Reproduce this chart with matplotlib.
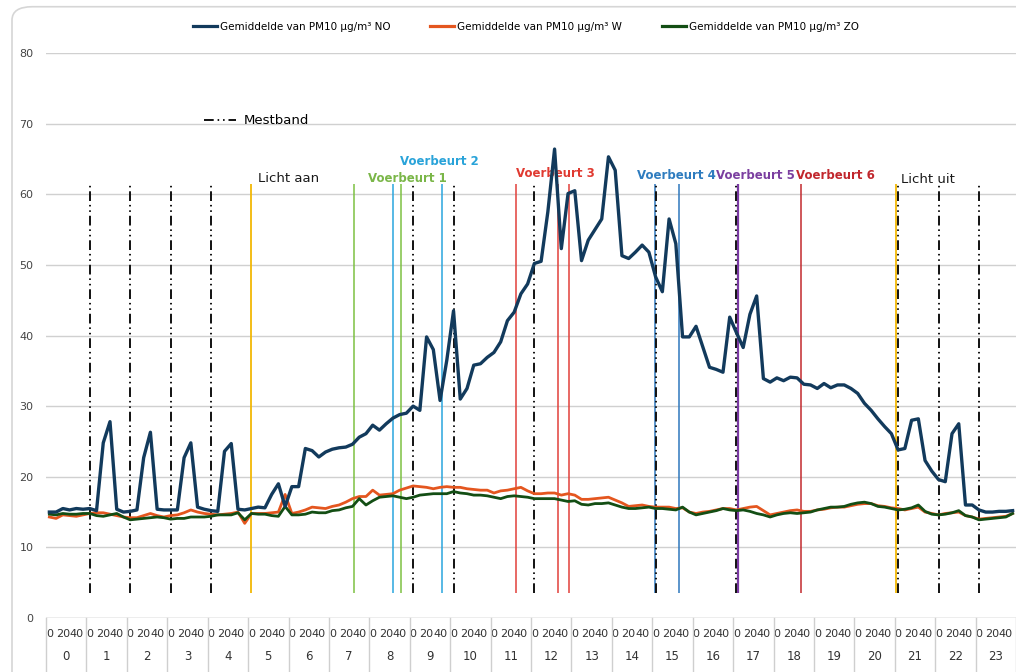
import numpy as np
import matplotlib
matplotlib.use('Agg')
import matplotlib.pyplot as plt
from matplotlib.lines import Line2D
from matplotlib.patches import FancyBboxPatch

# uren en minuut-labels (metingen per 10 minuten, label om de 20)
hours = list(range(24))
minute_labels = ['0', '20', '40']

# Gemiddelde PM10 per 10 minuten (144 waarden)
pm_no = [15.0, 15.0, 15.5, 15.3, 15.5, 15.4,
         15.5, 15.2, 24.8, 27.8, 15.4, 15.0,
         15.1, 15.3, 22.7, 26.3, 15.4, 15.3,
         15.3, 15.3, 22.7, 24.8, 15.7, 15.4,
         15.2, 15.1, 23.6, 24.7, 15.4, 15.3,
         15.5, 15.7, 15.6, 17.5, 19.0, 15.8,
         18.6, 18.6, 24.0, 23.7, 22.8, 23.5,
         23.9, 24.1, 24.2, 24.6, 25.6, 26.1,
         27.3, 26.6, 27.5, 28.3, 28.8, 29.0,
         30.0, 29.4, 39.8, 38.0, 30.8, 36.5,
         43.5, 31.0, 32.5, 35.8, 36.0, 36.9,
         37.6, 39.1, 42.1, 43.3, 45.9, 47.3,
         50.2, 50.5, 57.5, 66.4, 52.3, 60.1,
         60.5, 50.6, 53.5, 55.0, 56.5, 65.3,
         63.4, 51.3, 50.9, 51.8, 52.8, 51.8,
         48.3, 46.2, 56.5, 53.0, 39.8, 39.8,
         41.3, 38.4, 35.5, 35.2, 34.8, 42.6,
         40.4, 38.3, 43.0, 45.6, 33.9, 33.4,
         34.0, 33.6, 34.1, 34.0, 33.1, 33.0,
         32.5, 33.2, 32.6, 33.0, 33.0, 32.5,
         31.8, 30.4, 29.4, 28.2, 27.1, 26.1,
         23.8, 24.0, 28.0, 28.2, 22.3, 20.8,
         19.6, 19.3, 26.1, 27.5, 16.0, 16.0,
         15.3, 15.0, 15.0, 15.1, 15.1, 15.2]

pm_w = [14.3, 14.1, 14.6, 14.5, 14.4, 14.6,
        14.8, 14.9, 14.9, 14.7, 14.5, 14.3,
        14.2, 14.2, 14.5, 14.8, 14.5, 14.3,
        14.5, 14.6, 14.9, 15.3, 15.0, 14.8,
        14.7, 14.6, 14.7, 14.8, 15.0, 13.4,
        14.8, 14.8, 14.8, 14.9, 15.0, 17.5,
        14.8, 15.0, 15.3, 15.7, 15.6, 15.5,
        15.8, 16.0, 16.4, 16.9, 17.2, 17.2,
        18.1, 17.4, 17.5, 17.6, 18.1, 18.4,
        18.7, 18.6, 18.5, 18.3, 18.5, 18.6,
        18.5, 18.5, 18.3, 18.2, 18.1, 18.1,
        17.7, 18.0, 18.1, 18.3, 18.5, 18.0,
        17.6, 17.6, 17.7, 17.7, 17.4, 17.6,
        17.4, 16.8, 16.8, 16.9, 17.0, 17.1,
        16.7, 16.3, 15.8, 15.9, 16.0, 15.8,
        15.7, 15.7, 15.7, 15.5, 15.6, 15.0,
        14.8, 15.0, 15.1, 15.3, 15.5, 15.5,
        15.3, 15.5, 15.7, 15.8, 15.2, 14.6,
        14.8, 15.0, 15.2, 15.3, 15.1, 15.1,
        15.3, 15.4, 15.6, 15.7, 15.7, 15.9,
        16.1, 16.2, 16.2, 15.9, 15.8, 15.6,
        15.5, 15.3, 15.5, 15.7, 15.0, 14.8,
        14.6, 14.8, 14.9, 15.0, 14.5, 14.3,
        14.0, 14.1, 14.2, 14.3, 14.4, 14.8]

pm_zo = [14.7, 14.6, 14.8, 14.7, 14.7, 14.8,
         14.8, 14.5, 14.4, 14.6, 14.8, 14.3,
         13.9, 14.0, 14.1, 14.2, 14.3, 14.2,
         14.0, 14.1, 14.1, 14.3, 14.3, 14.3,
         14.4, 14.6, 14.6, 14.6, 14.9, 13.9,
         14.8, 14.7, 14.7, 14.5, 14.4, 15.8,
         14.6, 14.6, 14.7, 15.0, 14.9, 14.9,
         15.2, 15.3, 15.6, 15.8, 16.9, 16.0,
         16.6, 17.1, 17.2, 17.3, 17.1, 16.9,
         17.1, 17.4, 17.5, 17.6, 17.6, 17.6,
         17.9, 17.7, 17.6, 17.4, 17.4, 17.3,
         17.1, 16.9, 17.2, 17.3, 17.2, 17.1,
         16.9, 16.9, 16.9, 16.9, 16.7, 16.5,
         16.6, 16.1, 16.0, 16.2, 16.2, 16.3,
         16.0, 15.7, 15.5, 15.5, 15.6, 15.7,
         15.5, 15.5, 15.4, 15.3, 15.7, 15.0,
         14.6, 14.8, 15.0, 15.2, 15.5, 15.3,
         15.2, 15.3, 15.1, 14.8, 14.6, 14.3,
         14.6, 14.8, 14.9, 14.8, 14.9, 15.0,
         15.3, 15.5, 15.7, 15.7, 15.8, 16.1,
         16.3, 16.4, 16.2, 15.8, 15.7, 15.5,
         15.3, 15.4, 15.6, 16.0, 15.1, 14.7,
         14.6, 14.7, 14.9, 15.2, 14.5, 14.3,
         13.9, 14.0, 14.1, 14.2, 14.3, 14.8]

# gebeurtenissen (minuten na middernacht)
mestband_hours = [1, 2, 3, 4, 9, 10, 12, 15, 17, 21, 22, 23]
licht_aan = [300]
licht_uit = [1257]
voerbeurt_1 = [452, 522]
voerbeurt_2 = [510, 583]
voerbeurt_3 = [692, 755, 772]
voerbeurt_4 = [899, 934]
voerbeurt_5 = [1023]
voerbeurt_6 = [1116]

c_no = '#123a5c'
c_w = '#e4561f'
c_zo = '#134e14'
mest_dash = (0, (5, 2, 0.8, 2, 0.8, 2))

fig = plt.figure(figsize=(10.16, 6.72), dpi=100)
ax = fig.add_axes([46 / 1016, 54 / 672, 970 / 1016, 565 / 672])

# kaartrand (foto van scherm)
card = FancyBboxPatch((12 / 1016, -0.1), 1.2, 1.09, transform=fig.transFigure,
                      boxstyle='round,pad=0,rounding_size=0.02',
                      facecolor='none', edgecolor='#d6d6d6', lw=1.2, zorder=0)
fig.patches.append(card)

x = np.arange(len(pm_no))

ax.set_xlim(-0.5, len(pm_no) - 0.5)
ax.set_ylim(0, 80)
ax.set_yticks(range(0, 90, 10))
ax.yaxis.grid(True, color='#d0d0d0', lw=1)
ax.set_axisbelow(True)
for s in ax.spines.values():
    s.set_visible(False)
ax.tick_params(axis='y', length=0, pad=9, labelsize=8, labelcolor='#444444')

# vertical event lines
y0, y1 = 3.5, 61.5
ax.vlines([h * 6 for h in mestband_hours], y0, y1, colors='#111111', lw=1.4,
          linestyles=[mest_dash], zorder=3)
ax.vlines([m / 10 for m in licht_aan + licht_uit], y0, y1, colors='#f2b705', lw=1.3, zorder=2)
ax.vlines([m / 10 for m in voerbeurt_1], y0, y1, colors='#7dc142', lw=1.1, zorder=2)
ax.vlines([m / 10 for m in voerbeurt_2], y0, y1, colors='#2aa6de', lw=1.1, zorder=2)
ax.vlines([m / 10 for m in voerbeurt_3], y0, y1, colors='#e2403a', lw=1.1, zorder=2)
ax.vlines([m / 10 for m in voerbeurt_4], y0, y1, colors='#2f78bd', lw=1.1, zorder=2)
ax.vlines([m / 10 for m in voerbeurt_5], y0, y1, colors='#7a3aa3', lw=1.6, zorder=2)
ax.vlines([m / 10 for m in voerbeurt_6], y0, y1, colors='#c22a2e', lw=1.1, zorder=2)

# series
ax.plot(x, pm_w, color=c_w, lw=2.0, zorder=4, label='Gemiddelde van PM10 µg/m³ W')
ax.plot(x, pm_zo, color=c_zo, lw=2.0, zorder=5, label='Gemiddelde van PM10 µg/m³ ZO')
ax.plot(x, pm_no, color=c_no, lw=2.4, zorder=6, label='Gemiddelde van PM10 µg/m³ NO')

# labels bij de lijnen
ax.text(31.0, 62.2, 'Licht aan', fontsize=9.5, color='#1a1a1a', va='center')
ax.text(126.5, 62.1, 'Licht uit', fontsize=9.5, color='#1a1a1a', va='center')
ax.text(47.3, 62.2, 'Voerbeurt 1', fontsize=8.5, fontweight='bold', color='#7ab648', va='center')
ax.text(52.1, 64.6, 'Voerbeurt 2', fontsize=8.5, fontweight='bold', color='#29a3d9', va='center')
ax.text(69.2, 62.9, 'Voerbeurt 3', fontsize=8.5, fontweight='bold', color='#e03a31', va='center')
ax.text(87.3, 62.7, 'Voerbeurt 4', fontsize=8.5, fontweight='bold', color='#2e7cbf', va='center')
ax.text(99.0, 62.7, 'Voerbeurt 5', fontsize=8.5, fontweight='bold', color='#7b3fa0', va='center')
ax.text(110.9, 62.7, 'Voerbeurt 6', fontsize=8.5, fontweight='bold', color='#c1272d', va='center')

# legenda bovenaan
h, l = ax.get_legend_handles_labels()
order = [2, 0, 1]
leg = fig.legend([h[i] for i in order], [l[i] for i in order], loc='center',
                 bbox_to_anchor=(526 / 1016, 1 - 27 / 672), ncol=3, frameon=False,
                 fontsize=7.5, handlelength=2.3, handletextpad=0.3, columnspacing=3.8)
for ln in leg.get_lines():
    ln.set_linewidth(2.3)

# legenda mestband
mest_handle = Line2D([], [], color='#111111', lw=1.4, linestyle=mest_dash)
ax.legend([mest_handle], ['Mestband'], loc='center left',
          bbox_to_anchor=(146 / 970, (618 - 121) / 565), frameon=False,
          fontsize=9.5, handlelength=2.4, handletextpad=0.6)

# x-as als categorie-tabel
ax.set_xticks([h * 6 + k * 2 for h in hours for k in range(3)])
ax.set_xticklabels(minute_labels * len(hours))
ax.tick_params(axis='x', length=0, pad=8, labelsize=8, labelcolor='#333333')
xt = ax.get_xaxis_transform()
ax.axhline(0, color='#cfcfcf', lw=1, zorder=1)
for hh in range(len(hours) + 1):
    ax.plot([hh * 6 - 0.5] * 2, [0, -0.1], transform=xt, color='#cfcfcf', lw=1, clip_on=False)
for hh in hours:
    ax.text(hh * 6 + 2.5, -0.069, str(hh), transform=xt, ha='center', va='center',
            fontsize=8.5, color='#333333')

fig.savefig('out.png', dpi=100)
